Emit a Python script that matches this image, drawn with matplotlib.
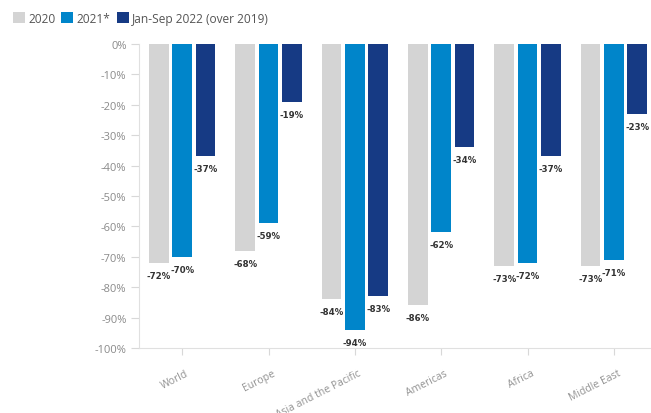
import numpy as np
import matplotlib.pyplot as plt
from matplotlib.patches import Patch

plt.rcParams['font.family'] = ['Open Sans', 'DejaVu Sans']

regions = ['World', 'Europe', 'Asia and the Pacific', 'Americas', 'Africa', 'Middle East']
series_names = ['2020', '2021*', 'Jan-Sep 2022 (over 2019)']
vals_2020 = [-72, -68, -84, -86, -73, -73]
vals_2021 = [-70, -59, -94, -62, -72, -71]
vals_2022 = [-37, -19, -83, -34, -37, -23]
colors = ['#d4d4d4', '#0085ca', '#163a84']

fig = plt.figure(figsize=(6.51, 4.14), dpi=100)
# axis spans a bit past the right edge, like the cropped original
ax = fig.add_axes([139 / 651, 1 - 349 / 414, 518 / 651, 304 / 414])

x = np.arange(len(regions))
width = 0.225
step = 0.27
for i, (vals, c) in enumerate(zip([vals_2020, vals_2021, vals_2022], colors)):
    pos = x + (i - 1) * step
    ax.bar(pos, vals, width=width, color=c, zorder=2)
    for px, v in zip(pos, vals):
        ax.annotate(f'{v}%', (px, v), xytext=(0, -9), textcoords='offset points',
                    ha='center', va='center', fontsize=6.2, fontweight='bold',
                    family='DejaVu Sans',
                    color='#333333', annotation_clip=False)

ax.set_xlim(-0.5, len(regions) - 0.5)
ax.set_ylim(-100, 0)
ax.set_yticks(np.arange(0, -101, -10))
ax.set_yticklabels([f'{t}%' for t in range(0, -101, -10)])
ax.tick_params(axis='y', colors='#d8d8d8', labelcolor='#8a8a8a', labelsize=8,
               length=6, width=0.8, pad=3)

ax.set_xticks(x)
ax.set_xticklabels([])
ax.tick_params(axis='x', colors='#d8d8d8', length=5, width=0.8)
for xi, name in zip(x, regions):
    ax.text(xi + 0.04, -106.3, name, rotation=27, rotation_mode='anchor',
            ha='right', va='top', fontsize=7.5, color='#929292', clip_on=False)

for side in ['top', 'right']:
    ax.spines[side].set_visible(False)
ax.spines['left'].set_color('#e0e0e0')
ax.spines['bottom'].set_color('#e0e0e0')
ax.spines['left'].set_linewidth(0.8)
ax.spines['bottom'].set_linewidth(0.8)

handles = [Patch(facecolor=c, edgecolor='none') for c in colors]
fig.legend(handles, series_names, loc='center left', bbox_to_anchor=(0.012, 0.954),
           frameon=False, fontsize=8.6, handlelength=1.0, handleheight=1.0,
           handletextpad=0.3, columnspacing=0.5, ncol=3, labelcolor='#555555',
           borderaxespad=0)

fig.savefig('out.png', dpi=100)
